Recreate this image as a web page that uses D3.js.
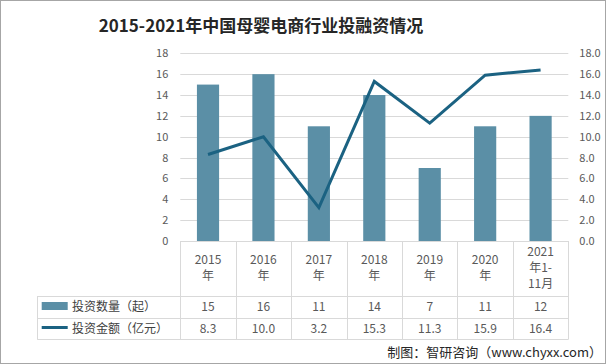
<!DOCTYPE html>
<html><head><meta charset="utf-8">
<script src="https://cdn.jsdelivr.net/npm/d3@7"></script>
<style>
html,body{margin:0;padding:0;background:#fff;}
text{font-family:"Noto Sans CJK SC","Noto Sans",sans-serif;}
</style></head>
<body><svg id="c" width="606" height="364"></svg>
<script>
const categories = ["2015年","2016年","2017年","2018年","2019年","2020年","2021年1-11月"];
const categoryLines = [["2015","年"],["2016","年"],["2017","年"],["2018","年"],["2019","年"],["2020","年"],["2021","年1-","11月"]];
const countValues = [15,16,11,14,7,11,12];
const amountValues = [8.3,10.0,3.2,15.3,11.3,15.9,16.4];
const seriesNames = ["投资数量（起）","投资金额（亿元）"];
const leftTicks = [0,2,4,6,8,10,12,14,16,18];
const rightTicks = [0,2,4,6,8,10,12,14,16,18];
const titleText = "2015-2021年中国母婴电商行业投融资情况";
const sourceText = "制图：智研咨询（www.chyxx.com）";

const svg = d3.select("#c");
const barColor = "#5B8FA6", lineColor = "#1B6282", grid = "#d9d9d9", txt = "#595959";
const L = 180.3, R = 568.3, T = 53.3, B = 241;
const x = d3.scaleBand().domain(categories).range([L, R]).paddingInner(0.6).paddingOuter(0.3);
const xc = d3.scaleBand().domain(categories).range([L, R]);
const yL = d3.scaleLinear().domain([0,18]).range([B, T]);
const yR = d3.scaleLinear().domain([0,18]).range([B, T]);

// frame
svg.append("rect").attr("x",0.5).attr("y",0.5).attr("width",605).attr("height",363)
  .attr("fill","none").attr("stroke","#a6a6a6");

// title
svg.append("text").attr("x",261).attr("y",31.5).attr("text-anchor","middle")
  .attr("font-size",17).attr("font-weight","bold").attr("fill","#262626").text(titleText);

// gridlines
svg.append("g").selectAll("line").data(leftTicks.filter(d=>d>0)).join("line")
  .attr("x1",L).attr("x2",R).attr("y1",d=>Math.round(yL(d))+0.5).attr("y2",d=>Math.round(yL(d))+0.5)
  .attr("stroke",grid);

// left axis
const la = svg.append("g").attr("transform",`translate(${L},0)`)
  .call(d3.axisLeft(yL).tickValues(leftTicks).tickSize(0).tickPadding(12).tickFormat(d3.format("d")));
la.select(".domain").remove();
la.selectAll("text").attr("font-size",11).attr("fill",txt).attr("font-family","'Noto Sans CJK SC',sans-serif");

// right axis
const ra = svg.append("g").attr("transform",`translate(${R},0)`)
  .call(d3.axisRight(yR).tickValues(rightTicks).tickSize(0).tickPadding(11).tickFormat(d3.format(".1f")));
ra.select(".domain").remove();
ra.selectAll("text").attr("font-size",11).attr("fill",txt).attr("font-family","'Noto Sans CJK SC',sans-serif");

// bars
svg.append("g").selectAll("rect").data(categories).join("rect")
  .attr("x",d=>x(d)).attr("width",x.bandwidth())
  .attr("y",(d,i)=>yL(countValues[i])).attr("height",(d,i)=>B-yL(countValues[i]))
  .attr("fill",barColor);

// line
const line = d3.line().x((d,i)=>xc(categories[i])+xc.bandwidth()/2).y(d=>yR(d));
svg.append("path").datum(amountValues).attr("d",line).attr("fill","none")
  .attr("stroke",lineColor).attr("stroke-width",3).attr("stroke-linejoin","miter");

// data table
const rows = [296, 317.5, 339];
const tbl = svg.append("g").attr("stroke",grid).attr("stroke-width",1);
tbl.append("line").attr("x1",L).attr("x2",R).attr("y1",B+0.5).attr("y2",B+0.5);
rows.forEach(yy=>tbl.append("line").attr("x1",37.3).attr("x2",R).attr("y1",Math.round(yy)+0.5).attr("y2",Math.round(yy)+0.5));
const bounds = categories.map(c=>xc(c)).concat([R]);
bounds.forEach(bx=>tbl.append("line").attr("x1",Math.round(bx)+0.5).attr("x2",Math.round(bx)+0.5).attr("y1",B).attr("y2",339.5));
tbl.append("line").attr("x1",37.5).attr("x2",37.5).attr("y1",296).attr("y2",339.5);

// category labels
const cg = svg.append("g");
categoryLines.forEach((lines,i)=>{
  const cx = xc(categories[i])+xc.bandwidth()/2;
  const n = lines.length;
  const startY = n===3 ? 256 : 264;
  lines.forEach((s,k)=>{
    cg.append("text").attr("x",cx).attr("y",startY+k*16).attr("text-anchor","middle")
      .attr("font-size",12).attr("fill",txt).text(s);
  });
});

// values
const vg = svg.append("g");
[countValues, amountValues].forEach((arr,r)=>{
  arr.forEach((v,i)=>{
    const cx = xc(categories[i])+xc.bandwidth()/2;
    vg.append("text").attr("x",cx).attr("y",r===0?311:332.5).attr("text-anchor","middle")
      .attr("font-size",12).attr("fill",txt).text(r===0?d3.format("d")(v):d3.format(".1f")(v));
  });
});

// legend keys
svg.append("rect").attr("x",41.7).attr("y",302).attr("width",26).attr("height",8).attr("fill",barColor);
svg.append("line").attr("x1",41.7).attr("x2",67.7).attr("y1",327.5).attr("y2",327.5).attr("stroke",lineColor).attr("stroke-width",3);
seriesNames.forEach((s,i)=>{
  svg.append("text").attr("x",72).attr("y",i===0?311:332.5).attr("font-size",12).attr("fill","#404040").text(s);
});

// source
svg.append("text").attr("x",602).attr("y",357).attr("text-anchor","end").attr("font-size",13)
  .attr("fill","#262626").text(sourceText);
</script></body></html>
